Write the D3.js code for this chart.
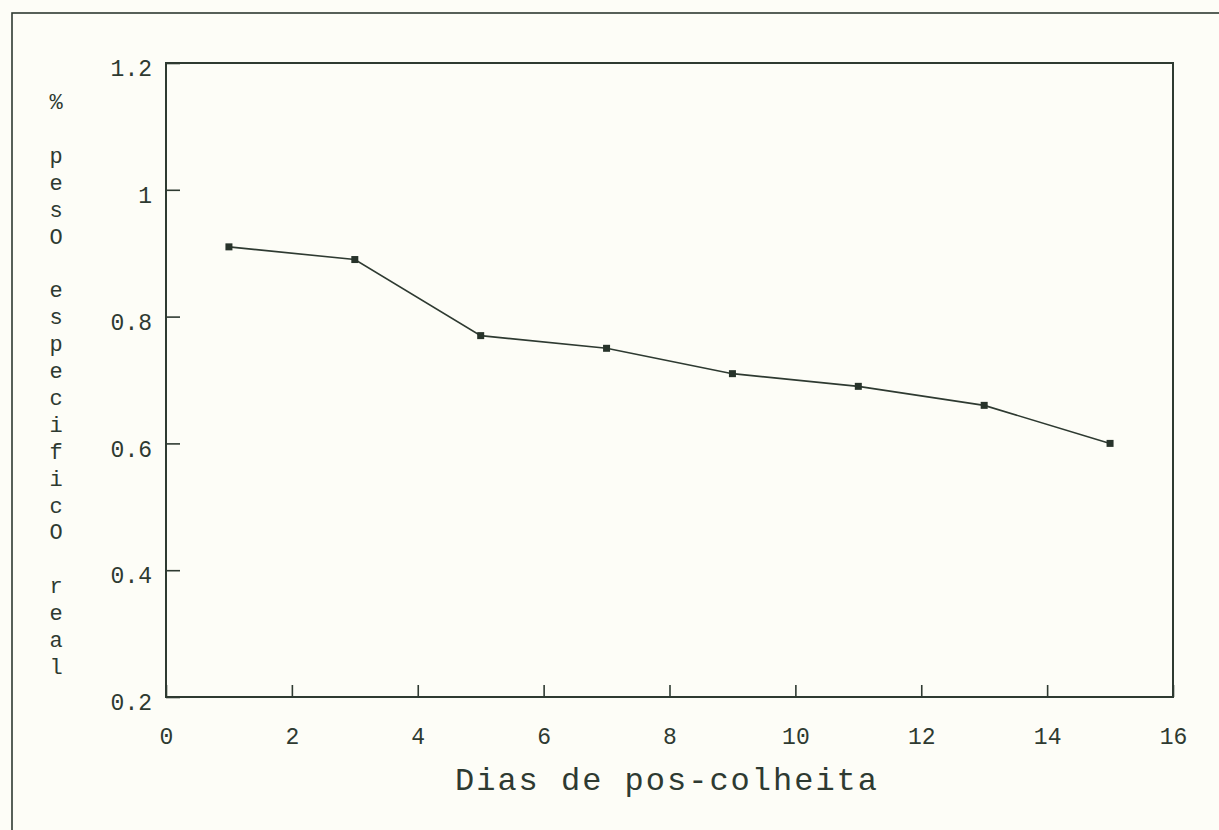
<!DOCTYPE html>
<html>
<head>
<meta charset="utf-8">
<script src="https://cdn.jsdelivr.net/npm/d3@7"></script>
<style>
    body { margin: 0; background: #fdfdf7; }
    svg { display: block; }
    text { font-family: "Liberation Mono", "DejaVu Sans Mono", monospace; fill: #2e3a31; }
</style>
</head>
<body>
<svg id="chart"></svg>
<script>
// data
const dias = [1, 3, 5, 7, 9, 11, 13, 15]
const pesoEspecifico = [0.91, 0.89, 0.77, 0.75, 0.71, 0.69, 0.66, 0.60]
const xTicks = [0, 2, 4, 6, 8, 10, 12, 14, 16]
const yTicks = [0.2, 0.4, 0.6, 0.8, 1, 1.2]
const xTitle = 'Dias de pos-colheita'
const yTitle = '% pesO especificO real'

const width = 1219
const height = 830
const ink = '#2e3a31'

const svg = d3.select('#chart')
    .attr('width', width)
    .attr('height', height)

const plot = { left: 166, right: 1173, top: 63, bottom: 697 }

// outer frame of the scanned page (only top and left edge visible)
svg.append('rect')
    .attr('x', 12)
    .attr('y', 13)
    .attr('width', width + 20)
    .attr('height', height + 20)
    .attr('fill', 'none')
    .attr('stroke', ink)
    .attr('stroke-width', 1.6)

const x = d3.scaleLinear()
    .domain([0, 16])
    .range([plot.left, plot.right])

const y = d3.scaleLinear()
    .domain([0.2, 1.2])
    .range([plot.bottom, plot.top])

// plot box
svg.append('rect')
    .attr('x', plot.left)
    .attr('y', plot.top)
    .attr('width', plot.right - plot.left)
    .attr('height', plot.bottom - plot.top)
    .attr('fill', 'none')
    .attr('stroke', ink)
    .attr('stroke-width', 2)

// x axis: ticks point inward, labels well below
const xAxis = svg.append('g')
    .attr('transform', `translate(0, ${plot.bottom})`)
    .call(d3.axisBottom(x).tickValues(xTicks).tickSize(-12).tickPadding(31).tickFormat(d3.format('d')))
xAxis.select('.domain').remove()
xAxis.selectAll('line').attr('stroke', ink).attr('stroke-width', 1.6)
xAxis.selectAll('text')
    .attr('font-size', 23)
    .attr('font-family', '"Liberation Mono", monospace')
    .attr('fill', ink)

const yAxis = svg.append('g')
    .attr('transform', `translate(${plot.left}, 0)`)
    .call(d3.axisLeft(y).tickValues(yTicks).tickSize(-14).tickPadding(14).tickFormat(d => d3.format('~g')(d)))
yAxis.select('.domain').remove()
yAxis.selectAll('line').attr('stroke', ink).attr('stroke-width', 1.6)
yAxis.selectAll('text')
    .attr('font-size', 23)
    .attr('font-family', '"Liberation Mono", monospace')
    .attr('fill', ink)
    .attr('dy', '0.55em')

// line + square markers
const line = d3.line()
    .x((d, i) => x(dias[i]))
    .y(d => y(d))

svg.append('path')
    .datum(pesoEspecifico)
    .attr('d', line)
    .attr('fill', 'none')
    .attr('stroke', ink)
    .attr('stroke-width', 1.6)

svg.selectAll('.ponto')
    .data(pesoEspecifico)
    .join('rect')
    .attr('class', 'ponto')
    .attr('x', (d, i) => x(dias[i]) - 3.5)
    .attr('y', d => y(d) - 3.5)
    .attr('width', 7)
    .attr('height', 7)
    .attr('fill', '#27332a')

// axis titles
svg.append('text')
    .attr('x', 455)
    .attr('y', 790)
    .attr('font-size', 32)
    .attr('textLength', 422)
    .attr('lengthAdjust', 'spacing')
    .text(xTitle)

const yLabel = svg.append('text')
    .attr('font-size', 22)
    .attr('text-anchor', 'middle')
yLabel.selectAll('tspan')
    .data(yTitle.split(''))
    .join('tspan')
    .attr('x', 56)
    .attr('y', (d, i) => 109 + i * 26.9)
    .text(d => d)
</script>
</body>
</html>
